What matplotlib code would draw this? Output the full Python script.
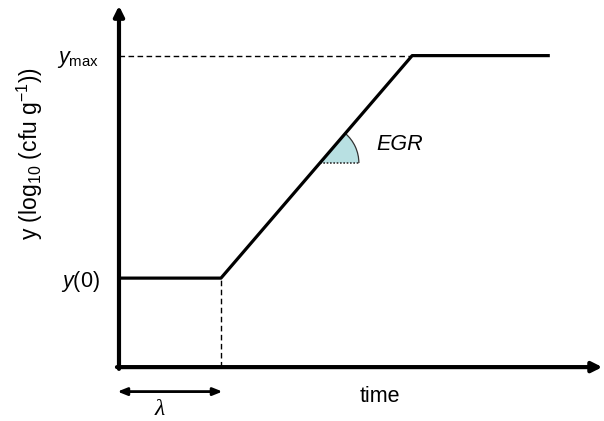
import numpy as np
import matplotlib
matplotlib.use("Agg")
import matplotlib.pyplot as plt
from matplotlib import transforms
from matplotlib.patches import Wedge, Arc

plt.rcParams["font.family"] = ["Liberation Sans", "DejaVu Sans"]
plt.rcParams["mathtext.fontset"] = "custom"
plt.rcParams["mathtext.rm"] = "Liberation Sans"
plt.rcParams["mathtext.it"] = "Liberation Sans:italic"

# growth curve (lag - linear - stationary)
t_curve = [0.0, 2.0, 5.75, 8.45]
y_curve = [2.0, 2.0, 7.0, 7.0]
lag = 2.0
y0 = 2.0
ymax = 7.0
t_egr = 3.94          # where the EGR angle sits on the slope

ytick_vals = [y0, ymax]
ytick_labels = ["$y$(0)", "$y_{\\mathrm{max}}$"]

XMAX = 9.43
YMAX = 8.07

fig = plt.figure(figsize=(6.04, 4.21), dpi=100)
ax = fig.add_axes([0.197, 0.128, 0.796, 0.853])
ax.set_xlim(0, XMAX)
ax.set_ylim(0, YMAX)
for s in ax.spines.values():
    s.set_visible(False)
ax.set_xticks([])
ax.set_yticks(ytick_vals)
ax.set_yticklabels(ytick_labels, fontsize=15.5)
ax.tick_params(axis="y", length=0, pad=14)

# axes with arrow heads
ax.annotate("", xy=(XMAX + 0.05, 0), xytext=(-0.04, 0),
            arrowprops=dict(arrowstyle="-|>,head_length=0.6,head_width=0.3",
                            lw=3, color="black", shrinkA=0, shrinkB=0),
            annotation_clip=False)
ax.annotate("", xy=(0, YMAX + 0.05), xytext=(0, -0.04),
            arrowprops=dict(arrowstyle="-|>,head_length=0.6,head_width=0.3",
                            lw=3, color="black", shrinkA=0, shrinkB=0),
            annotation_clip=False)

# curve
ax.plot(t_curve, y_curve, color="black", lw=2.3, solid_capstyle="butt", zorder=3)

# guide lines
ax.plot([0, t_curve[2]], [ymax, ymax], color="black", lw=1, ls=(0, (4, 2.5)))
ax.plot([lag, lag], [0, y0], color="black", lw=1, ls=(0, (4, 2.5)))

# EGR angle
fig.canvas.draw()
slope = (y_curve[2] - y_curve[1]) / (t_curve[2] - t_curve[1])
cy = y0 + (t_egr - lag) * slope
p0 = ax.transData.transform((t_curve[1], y_curve[1]))
p1 = ax.transData.transform((t_curve[2], y_curve[2]))
ang = np.degrees(np.arctan2(p1[1] - p0[1], p1[0] - p0[0]))
r = 0.39
tr = fig.dpi_scale_trans + transforms.ScaledTranslation(t_egr, cy, ax.transData)
ax.add_patch(Wedge((0, 0), r, 0, ang, transform=tr, facecolor="#b8e0e2",
                   edgecolor="none", zorder=2))
ax.add_patch(Arc((0, 0), 2 * r, 2 * r, theta1=0, theta2=ang, transform=tr,
                 color="#333333", lw=0.9, zorder=2))
ax.plot([0, r], [0, 0], transform=tr, color="#333333", lw=1.2,
        ls=(0, (1, 1)), zorder=2)
ax.text(5.05, 5.0, "EGR", fontsize=15.5, style="italic", va="center", ha="left")

# lag arrow
ax.annotate("", xy=(lag + 0.03, -0.55), xytext=(-0.03, -0.55),
            arrowprops=dict(arrowstyle="<|-|>,head_length=0.55,head_width=0.22",
                            lw=2, color="black", shrinkA=0, shrinkB=0),
            annotation_clip=False)
ax.text(0.8, -0.96, "λ", fontsize=17, style="italic",
        family=["Liberation Serif", "DejaVu Serif"], ha="center", va="center")

ax.text(5.12, -0.65, "time", fontsize=15.5, ha="center", va="center")
ax.text(-1.75, 4.8, "y (log$_{10}$ (cfu g$^{-1}$))", fontsize=16.5,
        rotation=90, ha="center", va="center")

fig.savefig("out.png", dpi=100)
